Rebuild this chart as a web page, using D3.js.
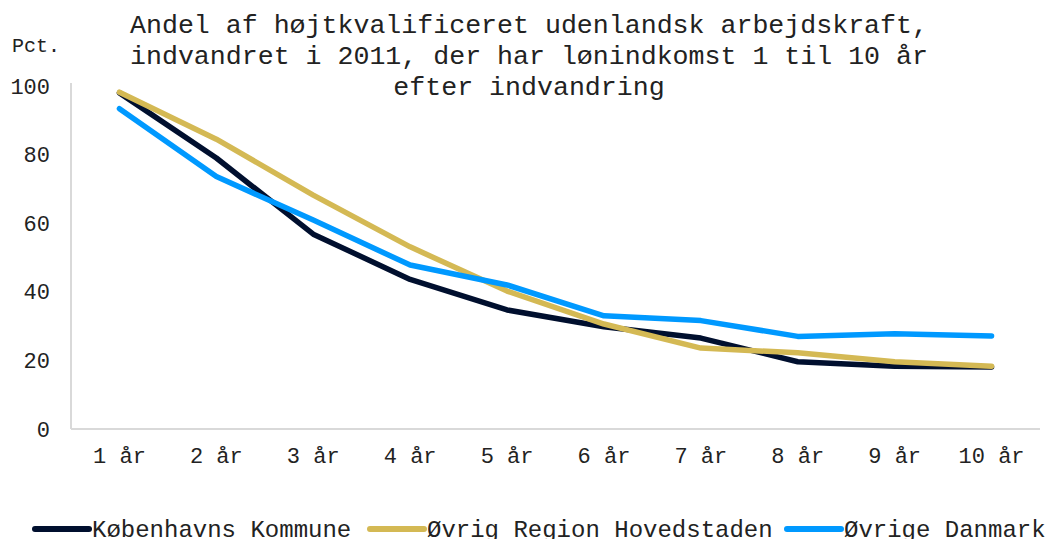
<!DOCTYPE html>
<html>
<head>
<meta charset="utf-8">
<script src="https://cdn.jsdelivr.net/npm/d3@7"></script>
<style>
  body { margin: 0; background: #fff; }
  svg text { font-family: "Liberation Mono", "Courier New", monospace; fill: #222; }
</style>
</head>
<body>
<svg id="chart" width="1048" height="539"></svg>
<script>
// data
var categories = ["1 år", "2 år", "3 år", "4 år", "5 år", "6 år", "7 år", "8 år", "9 år", "10 år"];
var kobenhavn = [98.0, 79.0, 56.8, 43.6, 34.7, 29.8, 26.5, 19.6, 18.3, 18.1];
var region = [98.2, 84.5, 68.2, 53.1, 40.2, 30.6, 23.6, 22.2, 19.6, 18.3];
var ovrige = [93.4, 73.6, 60.9, 47.8, 42.0, 33.0, 31.6, 27.0, 27.8, 27.1];
var yTicks = [0, 20, 40, 60, 80, 100];
var titleLines = [
    "Andel af højtkvalificeret udenlandsk arbejdskraft,",
    "indvandret i 2011, der har lønindkomst 1 til 10 år",
    "efter indvandring"
];

var series = [
    { name: "Københavns Kommune", values: kobenhavn, color: "#000f2e" },
    { name: "Øvrig Region Hovedstaden", values: region, color: "#d4b954" },
    { name: "Øvrige Danmark", values: ovrige, color: "#0099ff" }
];

var svg = d3.select("#chart");
var margin = { top: 86, right: 8, bottom: 110, left: 71 };
var width = 1048 - margin.left - margin.right;
var height = 539 - margin.top - margin.bottom;

var g = svg.append("g")
    .attr("transform", "translate(" + margin.left + "," + margin.top + ")");

var xScale = d3.scaleBand().domain(categories).range([0, width]);
var yScale = d3.scaleLinear().domain([0, 100]).range([height, 0]);

// axes
var yAxis = d3.axisLeft(yScale).tickValues(yTicks).tickSize(0).tickPadding(21);
var yg = g.append("g").attr("class", "axis axis-y").call(yAxis);
yg.select(".domain").attr("stroke", "#d9d9d9").attr("stroke-width", 2)
    .attr("d", "M0," + (-3) + "V" + height);
yg.selectAll("text").style("font-size", "22px").attr("dy", "0.32em");

var xAxis = d3.axisBottom(xScale).tickSize(0).tickPadding(18);
var xg = g.append("g").attr("class", "axis axis-x")
    .attr("transform", "translate(0," + height + ")")
    .call(xAxis);
xg.select(".domain").attr("stroke", "#d9d9d9").attr("stroke-width", 2)
    .attr("d", "M0,0H" + width);
xg.selectAll("text").style("font-size", "22px");

// lines
var line = d3.line()
    .x(function (d, i) { return xScale(categories[i]) + xScale.bandwidth() / 2; })
    .y(function (d) { return yScale(d); });

g.selectAll(".series")
    .data(series)
    .enter().append("path")
    .attr("class", "series")
    .attr("fill", "none")
    .attr("stroke", function (d) { return d.color; })
    .attr("stroke-width", 5.5)
    .attr("stroke-linejoin", "round")
    .attr("stroke-linecap", "round")
    .attr("d", function (d) { return line(d.values); });

// title
svg.append("text")
    .attr("x", 529)
    .attr("y", 33)
    .attr("text-anchor", "middle")
    .style("font-size", "26.6px")
    .selectAll("tspan")
    .data(titleLines)
    .enter().append("tspan")
    .attr("x", 529)
    .attr("dy", function (d, i) { return i === 0 ? 0 : 31; })
    .text(function (d) { return d; });

svg.append("text")
    .attr("x", 12)
    .attr("y", 52)
    .style("font-size", "20px")
    .text("Pct.");

// legend
var legendX = [33, 368, 785];
var legend = svg.selectAll(".legend")
    .data(series)
    .enter().append("g")
    .attr("class", "legend")
    .attr("transform", function (d, i) { return "translate(" + legendX[i] + ",529)"; });

legend.append("line")
    .attr("x1", 2).attr("x2", 56)
    .attr("y1", 0).attr("y2", 0)
    .attr("stroke", function (d) { return d.color; })
    .attr("stroke-width", 6)
    .attr("stroke-linecap", "round");

legend.append("text")
    .attr("x", 59)
    .attr("y", 8)
    .style("font-size", "24px")
    .text(function (d) { return d.name; });
</script>
</body>
</html>
